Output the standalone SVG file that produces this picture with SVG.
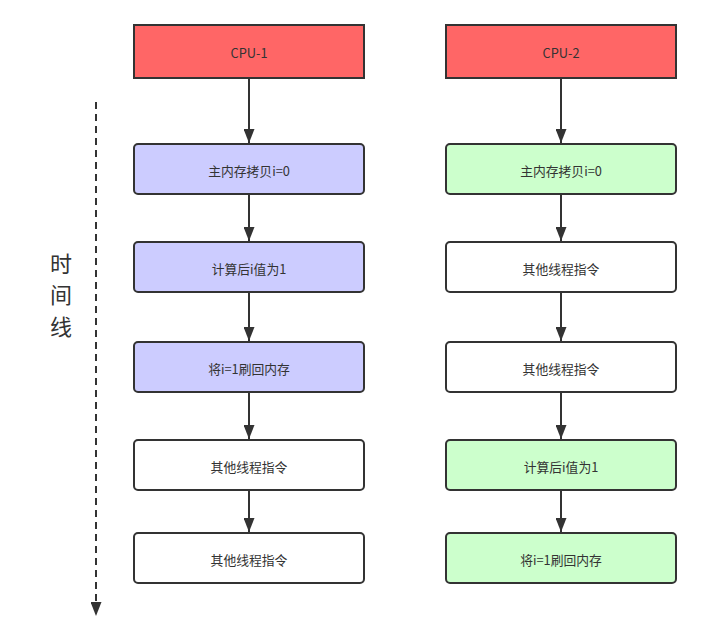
<svg xmlns="http://www.w3.org/2000/svg" width="701" height="641" viewBox="0 0 701 641">
<style>
.b{stroke:#333;stroke-width:2}
.r{fill:#FF6666}
.p{fill:#CCCCFF}
.g{fill:#CCFFCC}
.w{fill:#FFFFFF}
.t{font-family:"Noto Sans CJK SC","Liberation Sans",sans-serif;font-size:12.8px;fill:#333;text-anchor:middle;dominant-baseline:central}
.c{stroke:#333;stroke-width:2;fill:none}
.v{font-family:"Noto Sans CJK SC",sans-serif;font-size:22px;fill:#333;text-anchor:middle;dominant-baseline:central}
</style>
<defs>
<marker id="a" viewBox="0 0 14 11" refX="14" refY="5.5" markerWidth="14" markerHeight="11" markerUnits="userSpaceOnUse" orient="auto">
<path d="M0,0 L14,5.5 L0,11 Z" fill="#333"/>
</marker>
</defs>
<rect width="701" height="641" fill="#fff"/>
<g id="connectors">
<line class="c" x1="249" y1="79" x2="249" y2="143" marker-end="url(#a)"/>
<line class="c" x1="249" y1="195" x2="249" y2="241" marker-end="url(#a)"/>
<line class="c" x1="249" y1="293" x2="249" y2="341" marker-end="url(#a)"/>
<line class="c" x1="249" y1="393" x2="249" y2="439" marker-end="url(#a)"/>
<line class="c" x1="249" y1="491" x2="249" y2="532" marker-end="url(#a)"/>
<line class="c" x1="561" y1="79" x2="561" y2="143" marker-end="url(#a)"/>
<line class="c" x1="561" y1="195" x2="561" y2="241" marker-end="url(#a)"/>
<line class="c" x1="561" y1="293" x2="561" y2="341" marker-end="url(#a)"/>
<line class="c" x1="561" y1="393" x2="561" y2="439" marker-end="url(#a)"/>
<line class="c" x1="561" y1="491" x2="561" y2="532" marker-end="url(#a)"/>
<line class="c" x1="96" y1="102" x2="96" y2="616" stroke-dasharray="7 5" marker-end="url(#a)"/>
</g>
<g id="timeline-label">
<text class="v" x="61" y="262">时</text>
<text class="v" x="61" y="293">间</text>
<text class="v" x="61" y="325">线</text>
</g>
<g id="cpu1"><rect class="b r" x="134" y="25" width="230" height="53"/><text class="t" x="249" y="52">CPU-1</text></g>
<g id="l1"><rect class="b p" x="134" y="144" width="230" height="50" rx="4"/><text class="t" x="249" y="170">主内存拷贝i=0</text></g>
<g id="l2"><rect class="b p" x="134" y="242" width="230" height="50" rx="4"/><text class="t" x="249" y="268">计算后i值为1</text></g>
<g id="l3"><rect class="b p" x="134" y="342" width="230" height="50" rx="4"/><text class="t" x="249" y="368">将i=1刷回内存</text></g>
<g id="l4"><rect class="b w" x="134" y="440" width="230" height="50" rx="4"/><text class="t" x="249" y="466">其他线程指令</text></g>
<g id="l5"><rect class="b w" x="134" y="533" width="230" height="50" rx="4"/><text class="t" x="249" y="559">其他线程指令</text></g>
<g id="cpu2"><rect class="b r" x="446" y="25" width="230" height="53"/><text class="t" x="561" y="52">CPU-2</text></g>
<g id="r1"><rect class="b g" x="446" y="144" width="230" height="50" rx="4"/><text class="t" x="561" y="170">主内存拷贝i=0</text></g>
<g id="r2"><rect class="b w" x="446" y="242" width="230" height="50" rx="4"/><text class="t" x="561" y="268">其他线程指令</text></g>
<g id="r3"><rect class="b w" x="446" y="342" width="230" height="50" rx="4"/><text class="t" x="561" y="368">其他线程指令</text></g>
<g id="r4"><rect class="b g" x="446" y="440" width="230" height="50" rx="4"/><text class="t" x="561" y="466">计算后i值为1</text></g>
<g id="r5"><rect class="b g" x="446" y="533" width="230" height="50" rx="4"/><text class="t" x="561" y="559">将i=1刷回内存</text></g>
</svg>
